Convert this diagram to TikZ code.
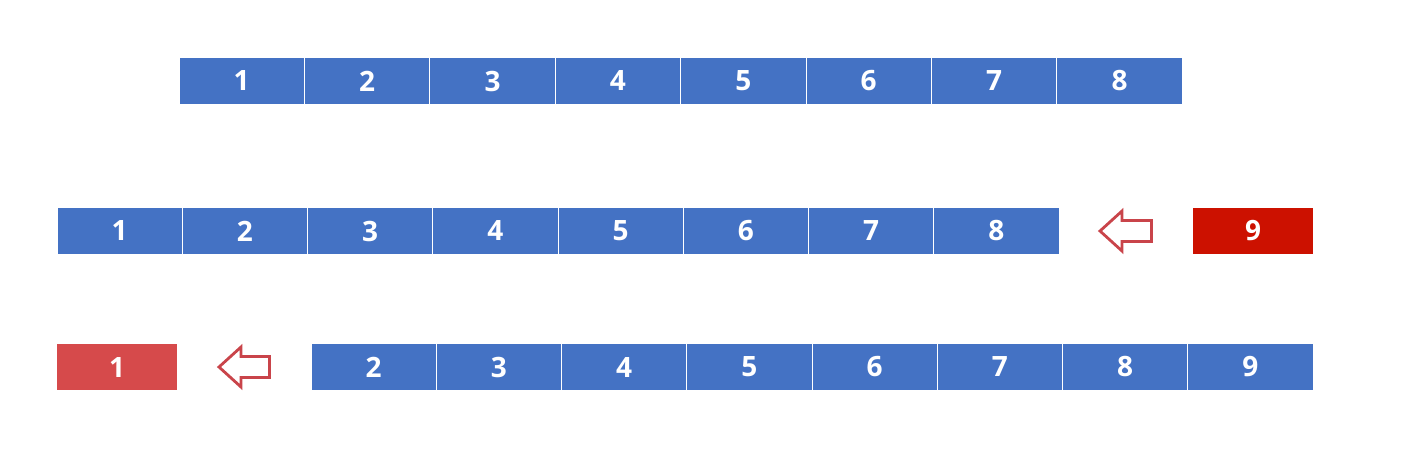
\documentclass[tikz,border=0pt]{standalone}
\usepackage{fontspec}
\setmainfont{Open Sans}
\definecolor{cellblue}{HTML}{4472C4}
\definecolor{darkred}{HTML}{CC1100}
\definecolor{softred}{HTML}{D64A4B}
\definecolor{arrowred}{HTML}{C9444A}
\tikzset{
  cell/.style={fill=cellblue, draw=white, line width=0.9pt, minimum width=125.3pt, minimum height=46.5pt, inner sep=0pt, text=white, font=\fontsize{28}{30}\selectfont\bfseries},
  redcell/.style={cell, fill=darkred, minimum width=120pt, draw=none},
  paleredcell/.style={cell, fill=softred, minimum width=120pt, draw=none},
  hollowarrow/.style={draw=arrowred, fill=white, line width=2.8pt, line join=miter}
}
\begin{document}
\begin{tikzpicture}[x=1pt,y=-1pt]
\useasboundingbox (0,0) rectangle (1420,450);
% row 1
\foreach \i in {1,...,8} {
  \node[cell] (a\i) at ({179+125.4*(\i-0.5)},81) {\i};
}
% row 2
\foreach \i in {1,...,8} {
  \node[cell] (b\i) at ({57+125.25*(\i-0.5)},231) {\i};
}
\node[redcell] (b9) at (1253,231) {9};
\coordinate (arr1) at (1100,231);
\draw[hollowarrow] (arr1) -- ++(22,-20) -- ++(0,9.5) -- ++(29.5,0) -- ++(0,21) -- ++(-29.5,0) -- ++(0,9.5) -- cycle;
% row 3
\node[paleredcell] (c1) at (117,367) {1};
\foreach \i in {2,...,9} {
  \node[cell] (c\i) at ({311+125.25*(\i-1.5)},367) {\i};
}
\coordinate (arr2) at (219,367);
\draw[hollowarrow] (arr2) -- ++(22,-20) -- ++(0,9.5) -- ++(28.5,0) -- ++(0,21) -- ++(-28.5,0) -- ++(0,9.5) -- cycle;
\end{tikzpicture}
\end{document}
